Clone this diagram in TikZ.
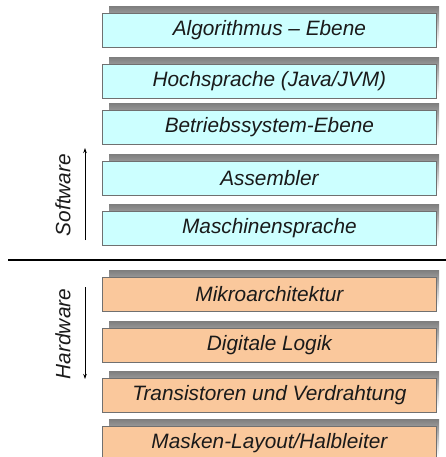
\documentclass[tikz,border=0pt]{standalone}
\usepackage{fontspec}
\setmainfont{Liberation Sans}
\usetikzlibrary{arrows.meta}
\definecolor{swfill}{HTML}{CCFFFF}
\definecolor{hwfill}{HTML}{FAC89C}
\definecolor{edge}{HTML}{707070}
\definecolor{shade}{HTML}{3C3C3C}
\definecolor{ink}{HTML}{1A1A1A}
\begin{document}
\begin{tikzpicture}[x=1pt,y=-1pt,
  layer/.style={draw=edge, line width=0.8pt, minimum width=334pt, minimum height=34pt,
    inner sep=0pt, anchor=north west, text=ink,
    font=\fontsize{20.8}{22}\selectfont\itshape},
  sw/.style={layer, fill=swfill},
  hw/.style={layer, fill=hwfill},
  side/.style={font=\fontsize{20.8}{22}\selectfont\itshape, rotate=90, text=ink},
  flow/.style={line width=0.8pt, -{Stealth[length=5pt,width=3.5pt]}}]
\useasboundingbox (0,0) rectangle (446,457);
% shadow plate behind each layer, then the layer itself
\newcommand{\layerbox}[4]{%
  \fill[shade] (109,#2-6.5) rectangle (439,#2+30);
  \node[#3] (#1) at (102,#2) {#4};}
\layerbox{alg}{13}{sw}{Algorithmus -- Ebene}
\layerbox{hoch}{64}{sw}{Hochsprache (Java/JVM)}
\layerbox{bs}{110}{sw}{Betriebssystem-Ebene}
\layerbox{asm}{161}{sw}{Assembler}
\layerbox{ms}{211}{sw}{Maschinensprache}
\layerbox{mikro}{277}{hw}{Mikroarchitektur}
\layerbox{dl}{328}{hw}{Digitale Logik}
\layerbox{tr}{378}{hw}{Transistoren und Verdrahtung}
\layerbox{mask}{426}{hw}{Masken-Layout/Halbleiter}
% separator between software and hardware
\coordinate (sepL) at (8,260);
\coordinate (sepR) at (446,260);
\draw[line width=1.8pt] (sepL) -- (sepR);
% side labels with direction arrows
\node[side] (swl) at (63,195) {Software};
\node[side] (hwl) at (63,334) {Hardware};
\coordinate (swa) at (85,240);
\coordinate (swb) at (85,148);
\coordinate (hwa) at (85,287);
\coordinate (hwb) at (85,379);
\draw[flow] (swa) -- (swb);
\draw[flow] (hwa) -- (hwb);
\end{tikzpicture}
\end{document}
